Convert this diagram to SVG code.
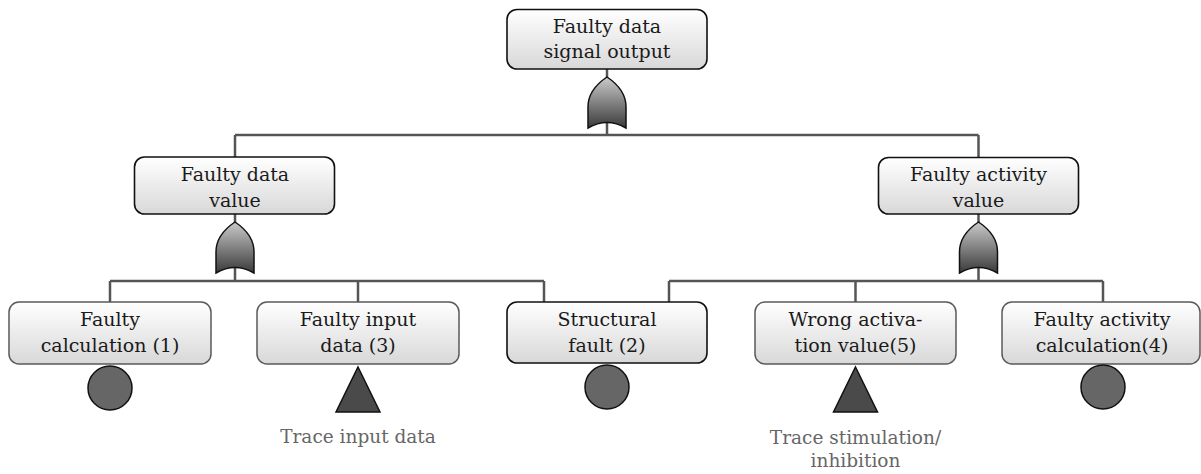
<svg xmlns="http://www.w3.org/2000/svg" width="1201" height="474" viewBox="0 0 1201 474">
  <defs>
    <linearGradient id="boxFill" x1="0" y1="0" x2="0" y2="1">
      <stop offset="0" stop-color="#ffffff"/>
      <stop offset="1" stop-color="#d8d8d8"/>
    </linearGradient>
    <linearGradient id="gateFill" x1="0" y1="0" x2="0" y2="1">
      <stop offset="0" stop-color="#cacaca"/>
      <stop offset="1" stop-color="#3a3a3a"/>
    </linearGradient>
    <!-- OR gate, apex at (0,0), 38 wide, 51 tall -->
    <path id="orGate" d="M-19,51 L-19,30 C-19,16 -9,6 0,0 C9,6 19,16 19,30 L19,51 Q0,40 -19,51 Z"/>
  </defs>
  <style>
    .box { fill: url(#boxFill); }
    .strong { stroke: #111; stroke-width: 1.6; }
    .light { stroke: #5a5a5a; stroke-width: 1.5; }
    .lbl { font-family: "DejaVu Serif", "Liberation Serif", serif; font-size: 19px; fill: #1a1a1a; text-anchor: middle; }
    .note { font-family: "DejaVu Serif", "Liberation Serif", serif; font-size: 18.5px; fill: #666; text-anchor: middle; }
    .wire { fill: none; stroke: #555; stroke-width: 2.5; }
    .gate { fill: url(#gateFill); stroke: #111; stroke-width: 1.5; }
    .basic { fill: #666; stroke: #111; stroke-width: 1.5; }
    .undev { fill: #4a4a4a; stroke: #111; stroke-width: 1.5; }
  </style>

  <!-- connectors -->
  <g id="connectors">
    <path class="wire" d="M607,69 V135 M235,135 H978.5 M235,135 V157 M978.5,135 V157.5"/>
    <path class="wire" d="M235,214 V281 M110,281 H544 M110,281 V302 M358,281 V302 M544,281 V302"/>
    <path class="wire" d="M978.5,214 V281 M669,281 H1103 M669,281 V302 M855.5,281 V302 M1103,281 V302"/>
  </g>

  <!-- gates -->
  <g id="gate-top"><use href="#orGate" class="gate" x="607" y="77"/></g>
  <g id="gate-data"><use href="#orGate" class="gate" x="235" y="222"/></g>
  <g id="gate-activity"><use href="#orGate" class="gate" x="978.5" y="222"/></g>

  <!-- events -->
  <g id="node-top">
    <rect class="box strong" x="507" y="9.5" width="200" height="59.5" rx="10"/>
    <text class="lbl" x="607" y="33">Faulty data</text>
    <text class="lbl" x="607" y="58">signal output</text>
  </g>
  <g id="node-data-value">
    <rect class="box strong" x="134.5" y="157" width="200" height="57" rx="10"/>
    <text class="lbl" x="235" y="181">Faulty data</text>
    <text class="lbl" x="235" y="207">value</text>
  </g>
  <g id="node-activity-value">
    <rect class="box strong" x="878.5" y="157.5" width="200" height="56.5" rx="10"/>
    <text class="lbl" x="978.5" y="181">Faulty activity</text>
    <text class="lbl" x="978.5" y="207">value</text>
  </g>
  <g id="node-calc">
    <rect class="box light" x="9" y="302" width="202" height="62" rx="10"/>
    <text class="lbl" x="110" y="326">Faulty</text>
    <text class="lbl" x="110" y="352">calculation (1)</text>
    <circle class="basic" cx="110" cy="388" r="22"/>
  </g>
  <g id="node-input">
    <rect class="box light" x="257" y="302" width="202" height="62" rx="10"/>
    <text class="lbl" x="358" y="326">Faulty input</text>
    <text class="lbl" x="358" y="352">data (3)</text>
    <polygon class="undev" points="358,367 380,412 336,412"/>
    <text class="note" x="358" y="443">Trace input data</text>
  </g>
  <g id="node-structural">
    <rect class="box strong" x="507" y="302" width="200" height="61" rx="10"/>
    <text class="lbl" x="607" y="326">Structural</text>
    <text class="lbl" x="607" y="352">fault (2)</text>
    <circle class="basic" cx="607" cy="387" r="22"/>
  </g>
  <g id="node-activation">
    <rect class="box light" x="755" y="302" width="201" height="62" rx="10"/>
    <text class="lbl" x="855.5" y="326">Wrong activa-</text>
    <text class="lbl" x="855.5" y="352">tion value(5)</text>
    <polygon class="undev" points="855.5,367 877.5,412 833.5,412"/>
    <text class="note" x="855.5" y="444">Trace stimulation/</text>
    <text class="note" x="855.5" y="467">inhibition</text>
  </g>
  <g id="node-activity-calc">
    <rect class="box light" x="1002" y="302" width="198" height="62" rx="10"/>
    <text class="lbl" x="1102" y="326">Faulty activity</text>
    <text class="lbl" x="1102" y="352">calculation(4)</text>
    <circle class="basic" cx="1103" cy="387" r="22"/>
  </g>
</svg>
